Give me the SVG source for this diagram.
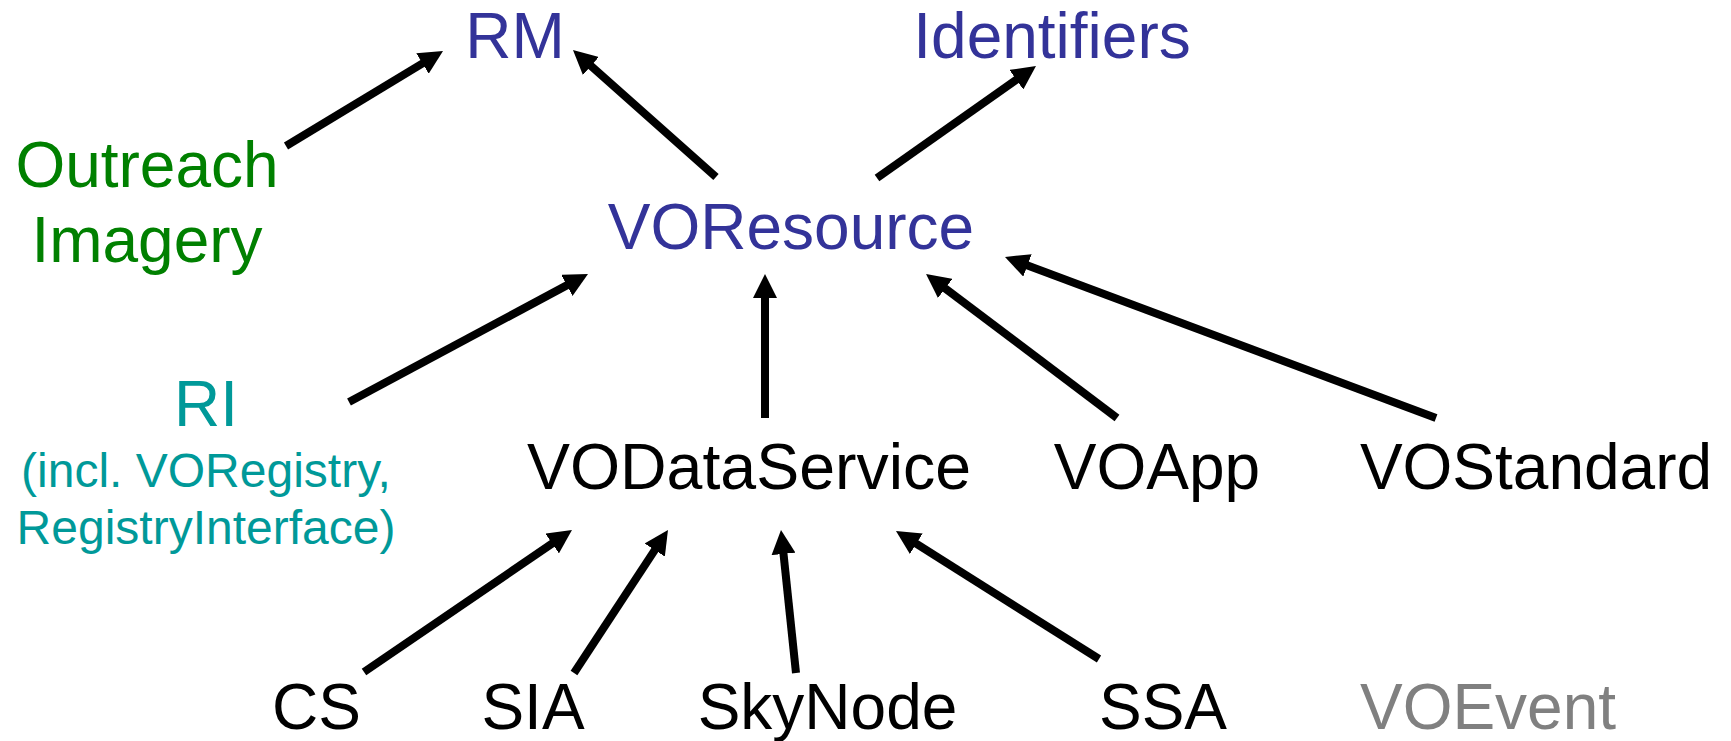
<svg xmlns="http://www.w3.org/2000/svg" width="1731" height="741" viewBox="0 0 1731 741">
<style>
text{font-family:"Liberation Sans",Arial,sans-serif;font-size:64px;text-anchor:middle}
.blue{fill:#333399}.green{fill:#008000}.teal{fill:#009999}.grey{fill:#808080}.black{fill:#000}
.small{font-size:48px}
.conn line{stroke:#000;stroke-width:8;fill:none;marker-end:url(#ah)}
</style>
<defs>
<marker id="ah" markerUnits="userSpaceOnUse" markerWidth="24" markerHeight="24" refX="2" refY="12" orient="auto" viewBox="0 0 24 24">
<path d="M0,0 L24,12 L0,24 Z" fill="#000"/>
</marker>
</defs>
<rect width="1731" height="741" fill="#fff"/>
<g id="connectors" class="conn">
<line x1="286" y1="146" x2="424.2" y2="62.4"/>
<line x1="716" y1="177" x2="589.4" y2="64.6"/>
<line x1="877" y1="178" x2="1018" y2="78.6"/>
<line x1="349" y1="402" x2="568.6" y2="284.4"/>
<line x1="765" y1="418" x2="765" y2="296"/>
<line x1="1117" y1="418" x2="943.6" y2="287.2"/>
<line x1="1436" y1="418" x2="1025.6" y2="264.7"/>
<line x1="364" y1="672" x2="553.8" y2="542.4"/>
<line x1="574" y1="673" x2="655.9" y2="548.4"/>
<line x1="796" y1="673" x2="783.3" y2="551.9"/>
<line x1="1099" y1="659" x2="914.6" y2="542.7"/>
</g>
<g id="RM"><text class="blue" x="515" y="58">RM</text></g>
<g id="Identifiers"><text class="blue" x="1052" y="58">Identifiers</text></g>
<g id="Outreach"><text class="green" x="147" y="187">Outreach</text><text class="green" x="147" y="262">Imagery</text></g>
<g id="VOResource"><text class="blue" x="791" y="249">VOResource</text></g>
<g id="RI"><text class="teal" x="206" y="426">RI</text><text class="teal small" x="206" y="487">(incl. VORegistry,</text><text class="teal small" x="206" y="544">RegistryInterface)</text></g>
<g id="VODataService"><text class="black" x="749" y="489" textLength="444" lengthAdjust="spacingAndGlyphs">VODataService</text></g>
<g id="VOApp"><text class="black" x="1157" y="489">VOApp</text></g>
<g id="VOStandard"><text class="black" x="1536" y="489">VOStandard</text></g>
<g id="CS"><text class="black" x="316.5" y="729">CS</text></g>
<g id="SIA"><text class="black" x="533" y="729">SIA</text></g>
<g id="SkyNode"><text class="black" x="827.5" y="729">SkyNode</text></g>
<g id="SSA"><text class="black" x="1163" y="729">SSA</text></g>
<g id="VOEvent"><text class="grey" x="1488" y="729">VOEvent</text></g>
</svg>
